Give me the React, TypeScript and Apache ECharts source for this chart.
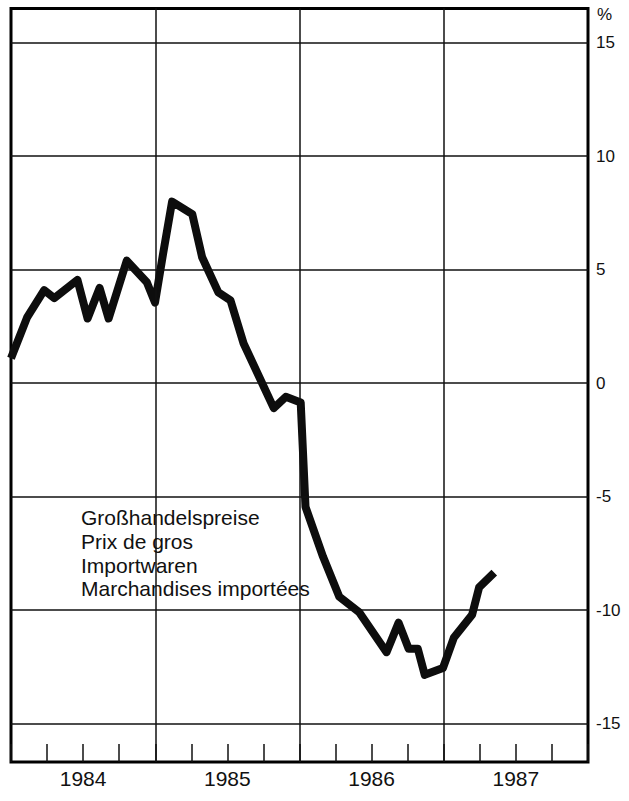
import React, { useEffect, useRef } from "react";
import * as echarts from "echarts";

// Months since January 1984 (value axis) and % change
const monthPos = [0, 1.34, 2.76, 3.6, 5.53, 6.37, 7.37, 8.12, 9.63, 11.3, 11.98, 12.65, 13.4, 15.08, 15.9, 17.25, 18.26, 19.35, 21.86, 22.86, 24.1, 24.5, 25.96, 27.3, 28.98, 31.24, 32.24, 33.08, 33.84, 34.42, 35.93, 36.85, 38.36, 38.94, 40.2];
const values = [1.1, 2.9, 4.1, 3.75, 4.55, 2.85, 4.2, 2.85, 5.4, 4.45, 3.55, 5.7, 8.0, 7.45, 5.55, 4.0, 3.65, 1.75, -1.1, -0.6, -0.85, -5.45, -7.65, -9.4, -10.1, -11.85, -10.55, -11.7, -11.7, -12.85, -12.55, -11.2, -10.2, -9.0, -8.35];

const years = ["1984", "1985", "1986", "1987"];
const yearLines = [12, 24, 36];
const yTicks = [-15, -10, -5, 0, 5, 10, 15];
const legendLines = ["Großhandelspreise", "Prix de gros", "Importwaren", "Marchandises importées"];

const FONT = "'Liberation Sans', Arial, Helvetica, sans-serif";

export default function App() {
  const ref = useRef<HTMLDivElement>(null);
  useEffect(() => {
    if (!ref.current) return;
    const chart = echarts.init(ref.current, undefined, { renderer: "svg" });
    const lineStyle = { color: "#111", width: 1.5, type: "solid" as const };
    chart.setOption({
      animation: false,
      backgroundColor: "#fff",
      grid: {
        left: 11,
        right: 41,
        top: 8.5,
        bottom: 39,
        show: true,
        borderColor: "#000",
        borderWidth: 3,
        backgroundColor: "transparent",
      },
      xAxis: [
        {
          type: "value",
          min: 0,
          max: 48,
          interval: 3,
          axisLine: { show: false, onZero: false },
          axisTick: { show: true, inside: true, length: 18, lineStyle: { color: "#111", width: 1.5 } },
          axisLabel: { show: false },
          splitLine: { show: false },
        },
        {
          type: "category",
          position: "bottom",
          data: years,
          boundaryGap: true,
          axisLine: { show: false, onZero: false },
          axisTick: { show: false },
          splitLine: { show: false },
          axisLabel: { margin: 6, fontSize: 21, color: "#111", fontFamily: FONT },
        },
      ],
      yAxis: {
        type: "value",
        position: "right",
        min: -16.69,
        max: 16.51,
        axisLine: { show: false },
        axisTick: { show: false },
        splitLine: { show: false },
        axisLabel: {
          customValues: yTicks,
          align: "left",
          margin: 8,
          fontSize: 17,
          color: "#111",
          fontFamily: FONT,
          formatter: (v: number) => (v < 0 ? "-" + Math.abs(v) : String(v)),
        },
      },
      graphic: [
        {
          type: "text",
          left: 597,
          top: 6,
          style: { text: "%", fontSize: 17, fill: "#111", fontFamily: FONT },
        },
        ...legendLines.map((t, i) => ({
          type: "text",
          left: 81,
          top: 507 + i * 23.8,
          style: { text: t, fontSize: 21, fill: "#111", fontFamily: FONT },
        })),
      ],
      series: [
        {
          type: "line",
          xAxisIndex: 0,
          data: monthPos.map((m, i) => [m, values[i]]),
          symbol: "none",
          lineStyle: { color: "#0d0d0d", width: 8, join: "round", cap: "butt" },
          markLine: {
            silent: true,
            symbol: ["none", "none"],
            label: { show: false },
            lineStyle,
            emphasis: { disabled: true },
            data: [
              ...yTicks.map((v) => ({ yAxis: v, lineStyle })),
              ...yearLines.map((v) => ({ xAxis: v, lineStyle })),
            ],
          },
          z: 3,
        },
      ],
    });
    return () => chart.dispose();
  }, []);
  return (
    <div
      ref={ref}
      style={{ position: "fixed", left: 0, top: 0, width: 629, height: 801, background: "#fff" }}
    />
  );
}
